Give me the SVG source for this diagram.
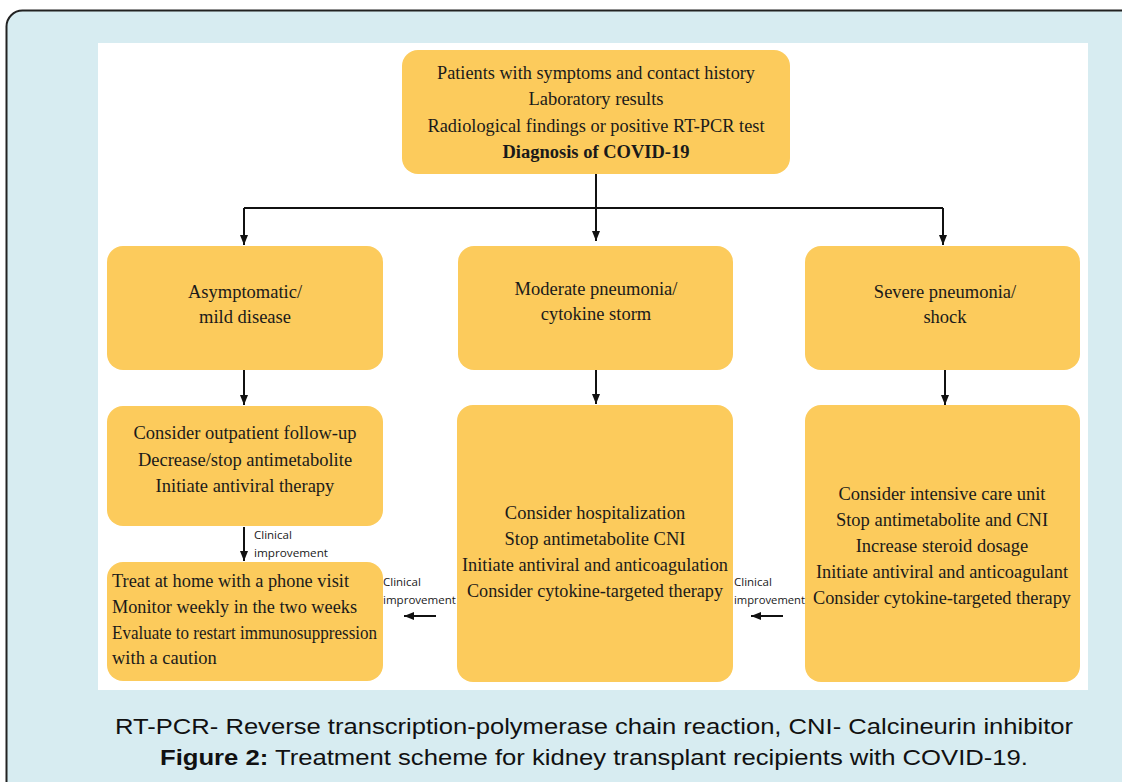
<svg xmlns="http://www.w3.org/2000/svg" width="1122" height="782" viewBox="0 0 1122 782">
<defs>
<marker id="ah" viewBox="0 0 10 10" refX="10" refY="5" markerWidth="10" markerHeight="10" markerUnits="userSpaceOnUse" orient="auto">
<path d="M0,1 L10,5 L0,9 Z" fill="#111"/>
</marker>
<style>
.box{fill:#fccb5c;}
.t{font-family:"Liberation Serif","Times New Roman",serif;font-size:18.5px;fill:#1a1a1a;text-anchor:middle;}
.tl{font-family:"Liberation Serif","Times New Roman",serif;font-size:18.5px;fill:#1a1a1a;}
.s{font-family:"Open Sans","Liberation Sans",sans-serif;font-size:11.5px;fill:#1a1a1a;}
.c{stroke:#111;stroke-width:2;fill:none;}
.cap{font-family:"Liberation Sans","Open Sans",sans-serif;font-size:22px;fill:#111;text-anchor:middle;}
</style>
</defs>
<rect x="6.5" y="10.5" width="1140" height="800" rx="16" fill="#d7ecf1" stroke="#222" stroke-width="2"/>
<rect x="98" y="43" width="990" height="647" fill="#ffffff"/>

<g id="diagnosis">
<rect class="box" x="402" y="50" width="388" height="124" rx="16"/>
<text class="t" x="596" y="79" textLength="318" lengthAdjust="spacingAndGlyphs">Patients with symptoms and contact history</text>
<text class="t" x="596" y="105">Laboratory results</text>
<text class="t" x="596" y="132" textLength="337" lengthAdjust="spacingAndGlyphs">Radiological findings or positive RT-PCR test</text>
<text class="t" x="596" y="158" font-weight="bold">Diagnosis of COVID-19</text>
</g>

<g id="mild">
<rect class="box" x="107" y="246" width="276" height="124" rx="16"/>
<text class="t" x="245" y="298">Asymptomatic/</text>
<text class="t" x="245" y="323">mild disease</text>
</g>

<g id="moderate">
<rect class="box" x="458" y="246" width="275" height="124" rx="16"/>
<text class="t" x="596" y="295">Moderate pneumonia/</text>
<text class="t" x="596" y="320">cytokine storm</text>
</g>

<g id="severe">
<rect class="box" x="805" y="246" width="275" height="124" rx="16"/>
<text class="t" x="945" y="298">Severe pneumonia/</text>
<text class="t" x="945" y="323">shock</text>
</g>

<g id="mild-treatment">
<rect class="box" x="107" y="406" width="276" height="120" rx="16"/>
<text class="t" x="245" y="439">Consider outpatient follow-up</text>
<text class="t" x="245" y="466">Decrease/stop antimetabolite</text>
<text class="t" x="245" y="492">Initiate antiviral therapy</text>
</g>

<g id="moderate-treatment">
<rect class="box" x="457" y="405" width="276" height="277" rx="16"/>
<text class="t" x="595" y="519">Consider hospitalization</text>
<text class="t" x="595" y="545">Stop antimetabolite CNI</text>
<text class="t" x="595" y="571" textLength="266" lengthAdjust="spacingAndGlyphs">Initiate antiviral and anticoagulation</text>
<text class="t" x="595" y="597" textLength="256" lengthAdjust="spacingAndGlyphs">Consider cytokine-targeted therapy</text>
</g>

<g id="severe-treatment">
<rect class="box" x="805" y="405" width="275" height="277" rx="16"/>
<text class="t" x="942" y="500">Consider intensive care unit</text>
<text class="t" x="942" y="526">Stop antimetabolite and CNI</text>
<text class="t" x="942" y="552">Increase steroid dosage</text>
<text class="t" x="942" y="578" textLength="252" lengthAdjust="spacingAndGlyphs">Initiate antiviral and anticoagulant</text>
<text class="t" x="942" y="604" textLength="258" lengthAdjust="spacingAndGlyphs">Consider cytokine-targeted therapy</text>
</g>

<g id="home">
<rect class="box" x="107" y="562" width="276" height="119" rx="16"/>
<text class="tl" x="112" y="587" textLength="237" lengthAdjust="spacingAndGlyphs">Treat at home with a phone visit</text>
<text class="tl" x="112" y="613" textLength="245" lengthAdjust="spacingAndGlyphs">Monitor weekly in the two weeks</text>
<text class="tl" x="112" y="639" textLength="265" lengthAdjust="spacingAndGlyphs">Evaluate to restart immunosuppression</text>
<text class="tl" x="112" y="664">with a caution</text>
</g>

<g id="connectors">
<path class="c" d="M596,174 V241" marker-end="url(#ah)"/>
<path class="c" d="M244,208 H943"/>
<path class="c" d="M244,208 V245" marker-end="url(#ah)"/>
<path class="c" d="M943,208 V245" marker-end="url(#ah)"/>
<path class="c" d="M244,370 V405" marker-end="url(#ah)"/>
<path class="c" d="M596,370 V404" marker-end="url(#ah)"/>
<path class="c" d="M945,370 V405" marker-end="url(#ah)"/>
<path class="c" d="M244,527 V561" marker-end="url(#ah)"/>
<path class="c" d="M436,616 H404" marker-end="url(#ah)"/>
<path class="c" d="M783,616 H751" marker-end="url(#ah)"/>
<text class="s" x="254" y="539">Clinical</text>
<text class="s" x="254" y="557" textLength="74" lengthAdjust="spacingAndGlyphs">improvement</text>
<text class="s" x="383" y="586">Clinical</text>
<text class="s" x="383" y="604" textLength="73" lengthAdjust="spacingAndGlyphs">improvement</text>
<text class="s" x="734" y="586">Clinical</text>
<text class="s" x="734" y="604" textLength="71" lengthAdjust="spacingAndGlyphs">improvement</text>
</g>

<g id="caption">
<text class="cap" x="594" y="734" textLength="958" lengthAdjust="spacingAndGlyphs">RT-PCR- Reverse transcription-polymerase chain reaction, CNI- Calcineurin inhibitor</text>
<text class="cap" x="594" y="765" textLength="868" lengthAdjust="spacingAndGlyphs"><tspan font-weight="bold">Figure 2:</tspan> Treatment scheme for kidney transplant recipients with COVID-19.</text>
</g>
</svg>
